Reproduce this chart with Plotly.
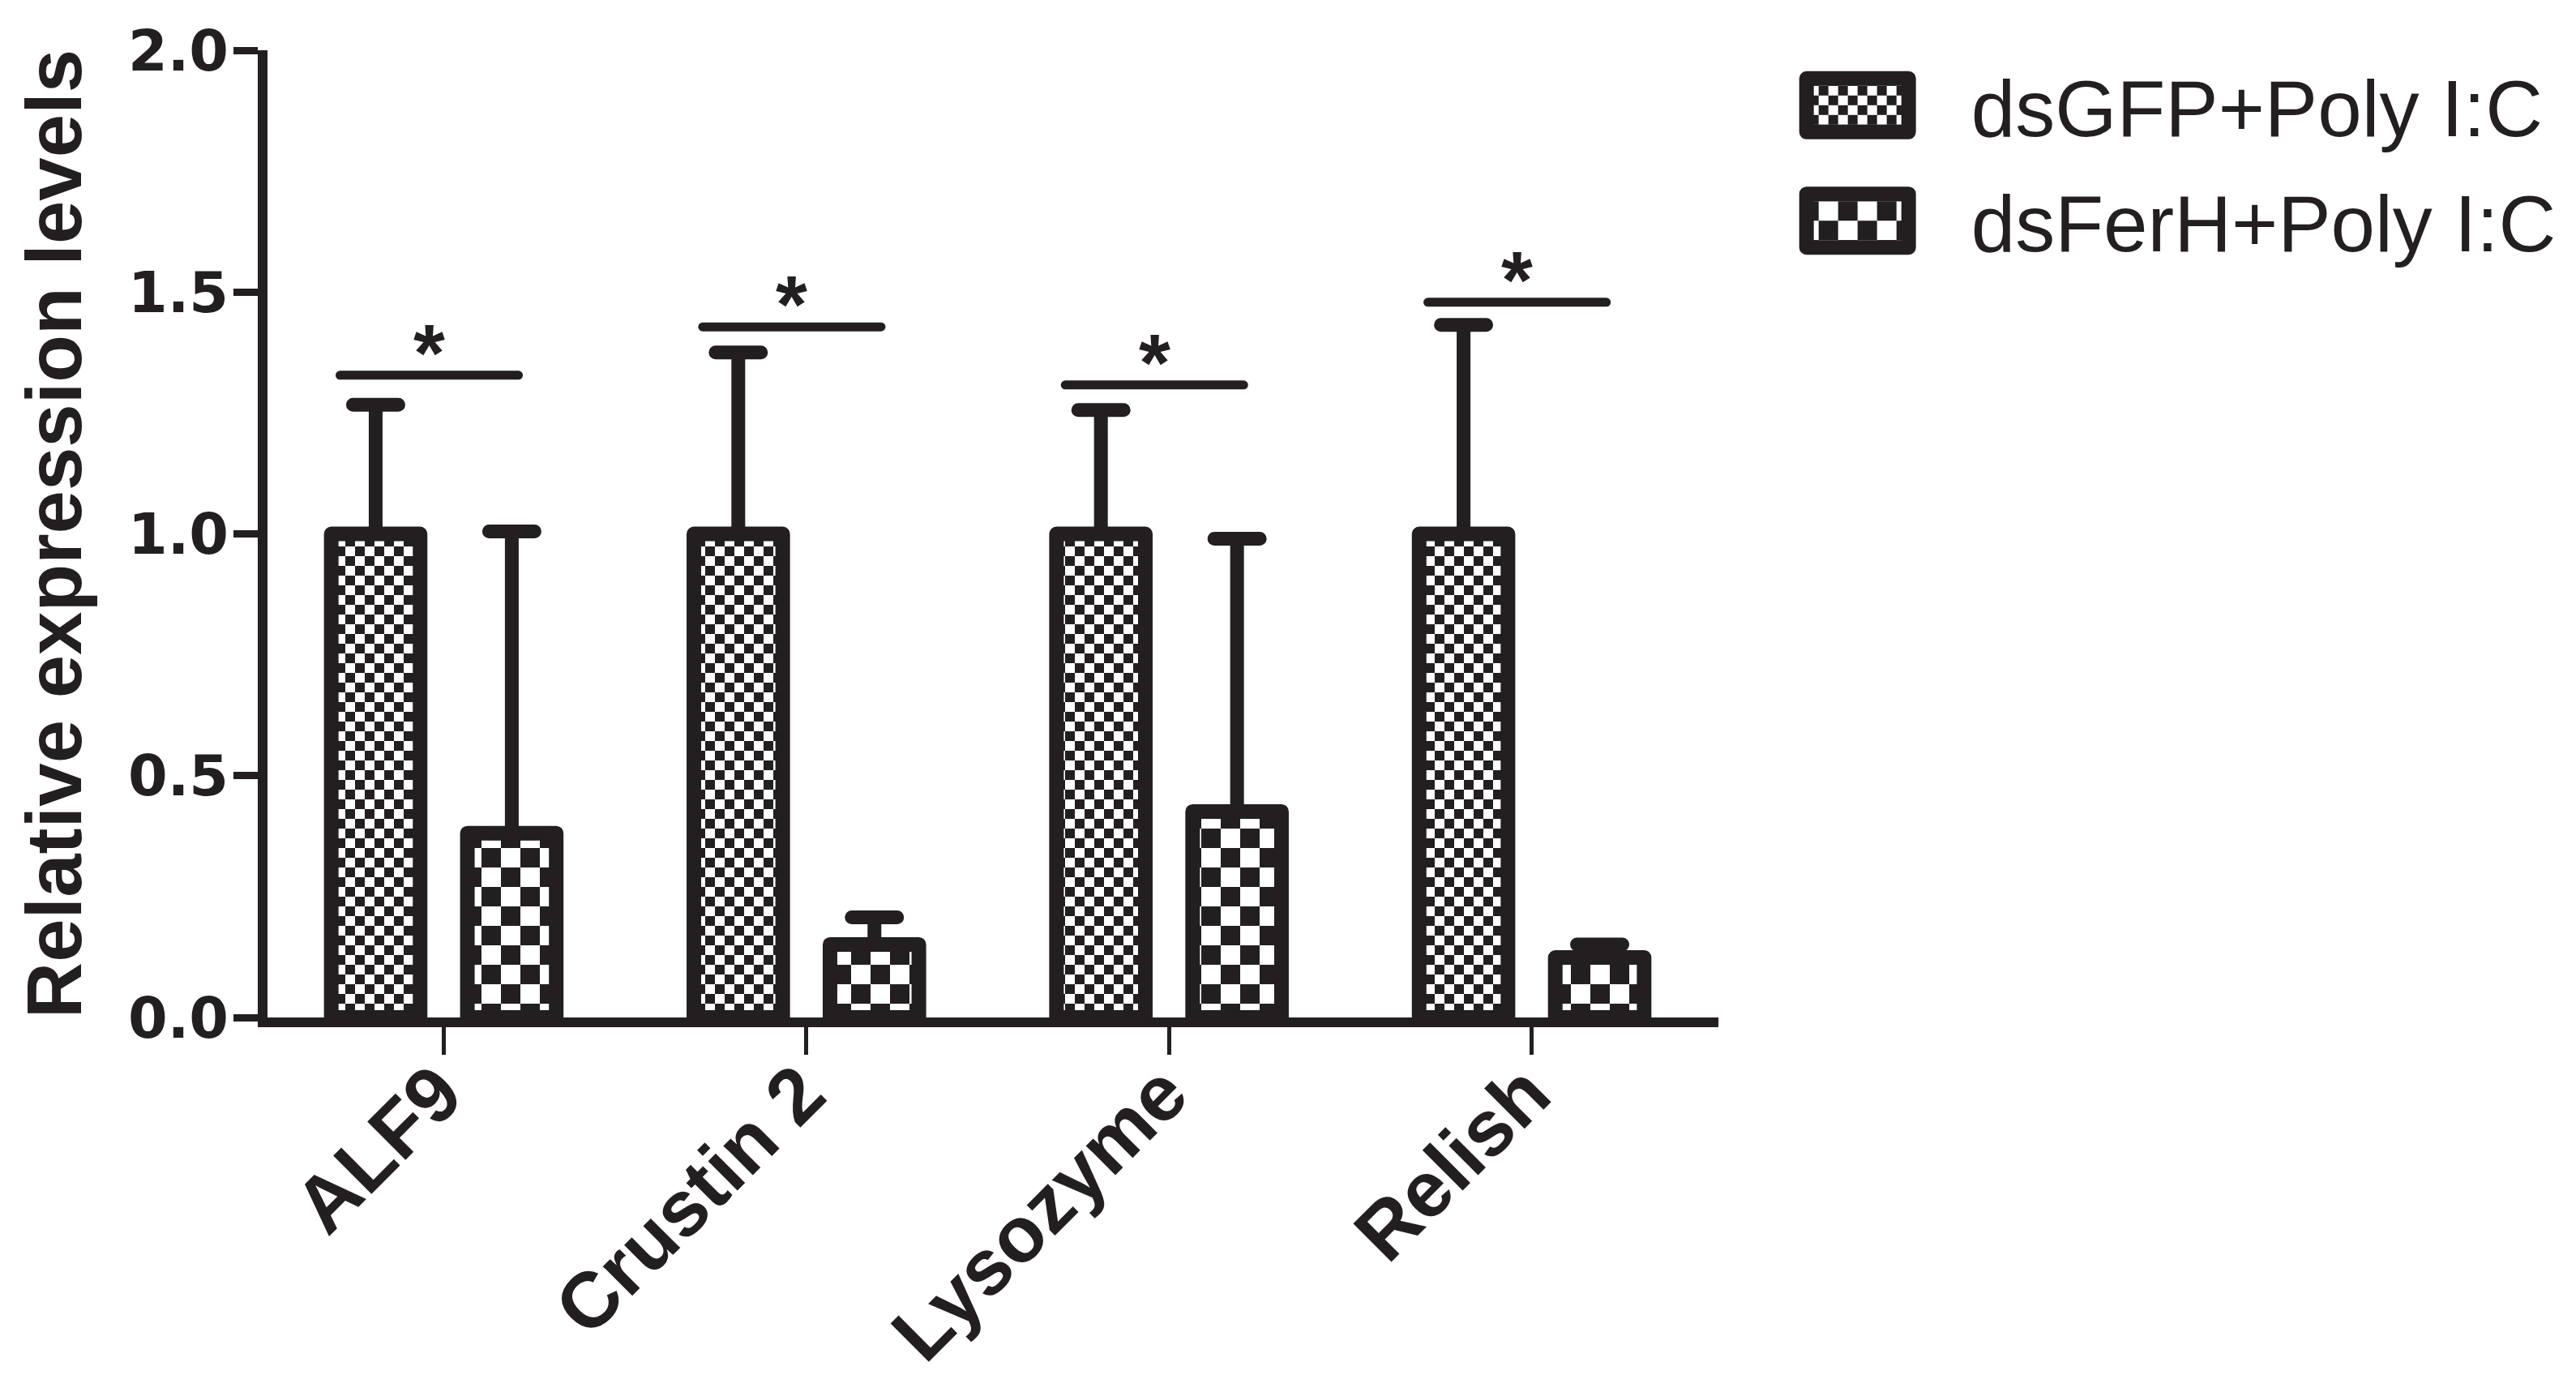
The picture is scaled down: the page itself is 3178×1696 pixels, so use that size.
import plotly.graph_objects as go

# ---------------- data ----------------
categories = ["ALF9", "Crustin 2", "Lysozyme", "Relish"]
series_names = ["dsGFP+Poly I:C", "dsFerH+Poly I:C"]
gfp_values = [1.0, 1.0, 1.0, 1.0]
gfp_err_upper = [0.267, 0.375, 0.256, 0.432]
ferh_values = [0.381, 0.151, 0.426, 0.124]
ferh_err_upper = [0.624, 0.056, 0.564, 0.027]
err_lower = [0, 0, 0, 0]
sig_heights = [1.328, 1.428, 1.308, 1.479]
sig_labels = ["*", "*", "*", "*"]
y_ticks = [0.0, 0.5, 1.0, 1.5, 2.0]

# ---------------- style ----------------
INK = "#231f20"
W, H = 3178, 1696
BAR_W = 0.245
HALF_SEP = 0.1877
BAR_LINE = 18

def bar_marker(cell):
    return dict(
        color="white",
        line=dict(color=INK, width=BAR_LINE),
        pattern=dict(shape=".", size=2 * cell, solidity=0.5,
                     fgcolor=INK, bgcolor="white", fillmode="replace"),
    )

fig = go.Figure()
fig.add_trace(go.Bar(
    name=series_names[0], x=categories, y=gfp_values,
    legendgroup="g1",
    width=BAR_W, offset=-HALF_SEP - BAR_W / 2,
    marker=bar_marker(12),
    error_y=dict(type="data", symmetric=False, array=gfp_err_upper,
                 arrayminus=err_lower, color=INK, thickness=17, width=28),
))
fig.add_trace(go.Bar(
    name=series_names[1], x=categories, y=ferh_values,
    legendgroup="g2",
    width=BAR_W, offset=HALF_SEP - BAR_W / 2,
    marker=bar_marker(24),
    error_y=dict(type="data", symmetric=False, array=ferh_err_upper,
                 arrayminus=err_lower, color=INK, thickness=17, width=28),
))

# significance lines and asterisks
for i, (h, lab) in enumerate(zip(sig_heights, sig_labels)):
    fig.add_shape(type="line", xref="x", yref="y",
                  x0=i - 0.286, x1=i + 0.206, y0=h, y1=h,
                  line=dict(color=INK, width=11))
    fig.add_annotation(x=i - 0.04, y=h, xref="x", yref="y", text=lab,
                       showarrow=False, yanchor="bottom", yshift=-30,
                       font=dict(family="Liberation Sans", size=100,
                                 color=INK, weight="bold"))

left, top = 321.5, 54
plot_w = 1790.5
plot_h = 1193
x_lo = -0.486
x_hi = x_lo + plot_w / 447.5
fig.update_layout(
    width=W, height=H,
    margin=dict(l=left, r=W - left - plot_w, t=top, b=H - top - plot_h,
                autoexpand=False),
    paper_bgcolor="white", plot_bgcolor="white",
    barmode="overlay",
    showlegend=True,
    legend=dict(
        x=1.0177, y=1.002, xanchor="left", yanchor="top",
        font=dict(family="Liberation Sans", size=98, color=INK),
        itemwidth=270, bgcolor="rgba(0,0,0,0)",
        traceorder="grouped", tracegroupgap=12,
    ),
    xaxis=dict(
        range=[x_lo, x_hi], showline=True, linewidth=12, linecolor=INK,
        ticks="outside", ticklen=34, tickwidth=5, tickcolor=INK,
        tickangle=-45, showgrid=False, zeroline=False,
        ticklabelstandoff=-48, ticklabelshift=-6,
        tickfont=dict(family="Liberation Sans", size=97, color=INK,
                      weight="bold"),
    ),
    yaxis=dict(
        range=[0, 2.0], tickvals=y_ticks, tickformat=".1f",
        showline=True, linewidth=12, linecolor=INK,
        ticks="outside", ticklen=30, tickwidth=9, tickcolor=INK,
        showgrid=False, zeroline=False, ticklabelstandoff=-8,
        tickfont=dict(family="DejaVu Sans", size=70, color=INK,
                      weight="bold"),
        title=dict(text="Relative expression levels", standoff=30,
                   font=dict(family="Liberation Sans", size=96, color=INK,
                             weight="bold")),
    ),
)

post_js = """
var gd = document.getElementById('{plot_id}');
var st = document.createElement('style');
st.textContent = ".legend .legendpoints path{d:path('M63,33H-63V-33H63Z');stroke-width:18px !important;stroke-linejoin:round;}" +
  " .errorbar path{stroke-linecap:round;}" +
  " .shapelayer path{stroke-linecap:round;}" +
  " .barlayer path{stroke-linejoin:round;}";
document.head.appendChild(st);
function styleFix(){
  var ns = 'http://www.w3.org/2000/svg';
  gd.querySelectorAll('pattern').forEach(function(p){
    if (p.getAttribute('data-ck')) return;
    var w = parseFloat(p.getAttribute('width'));
    var c = w / 2;
    while (p.firstChild) p.removeChild(p.firstChild);
    var bg = document.createElementNS(ns, 'rect');
    bg.setAttribute('width', w); bg.setAttribute('height', w);
    bg.setAttribute('fill', '#ffffff');
    p.appendChild(bg);
    [[0, 0], [c, c]].forEach(function(o){
      var r = document.createElementNS(ns, 'rect');
      r.setAttribute('x', o[0]); r.setAttribute('y', o[1]);
      r.setAttribute('width', c); r.setAttribute('height', c);
      r.setAttribute('fill', '#231f20');
      p.appendChild(r);
    });
    p.setAttribute('patternTransform', '');
    p.setAttribute('data-ck', '1');
  });
  var barTraces = gd.querySelectorAll('.barlayer g.trace');
  var legTraces = gd.querySelectorAll('.legend g.traces');
  legTraces.forEach(function(lt, k){
    var bp = barTraces[k] && barTraces[k].querySelector('g.point path');
    var lp = lt.querySelector('.legendpoints path');
    if (bp && lp && bp.style.fill) lp.style.fill = bp.style.fill;
  });
}
styleFix();
gd.on('plotly_afterplot', styleFix);
setTimeout(styleFix, 100);
setTimeout(styleFix, 600);
setTimeout(styleFix, 1500);
"""

fig.write_html("out.html", post_script=post_js,
               config={"displayModeBar": False})
